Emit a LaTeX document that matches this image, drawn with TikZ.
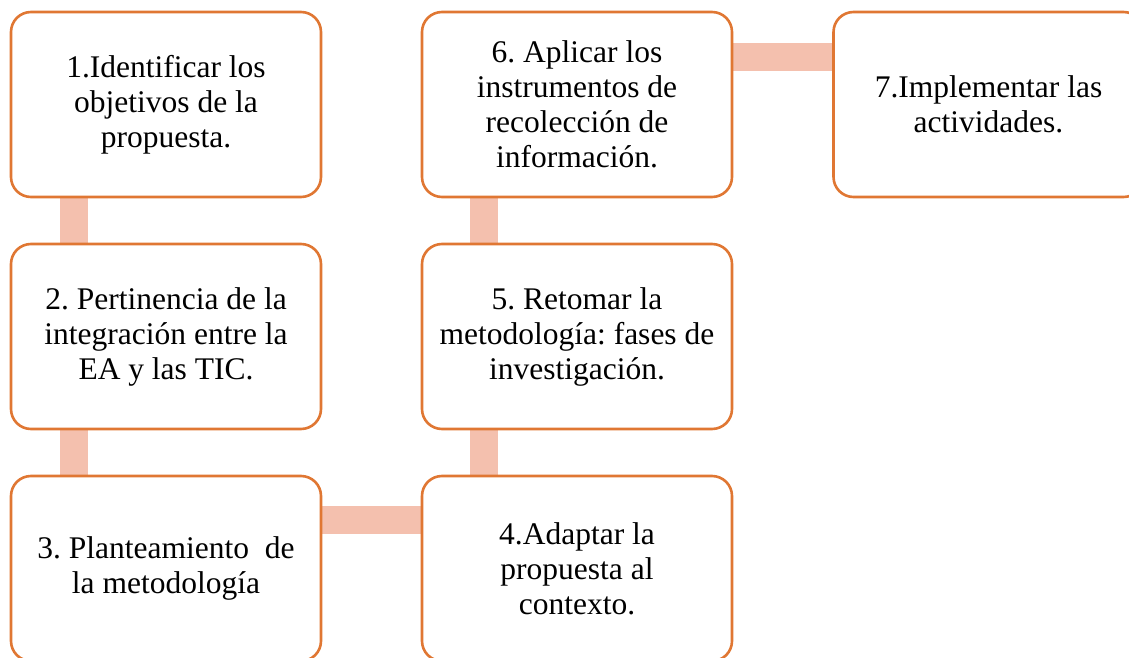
\documentclass[tikz,border=0pt]{standalone}
\usepackage{fontspec}
\setmainfont{Liberation Serif}
\usetikzlibrary{calc,backgrounds}
\definecolor{boxorange}{HTML}{E07733}
\definecolor{linkpink}{HTML}{F4C0AE}
\begin{document}
\frenchspacing
\begin{tikzpicture}[x=1pt,y=-1pt,
  stepbox/.style={draw=boxorange, line width=2.6pt, fill=white, rounded corners=20pt,
    minimum width=310pt, minimum height=185pt, align=center, inner sep=0pt,
    font=\fontsize{31.5}{35}\selectfont},
  link/.style={draw=linkpink, line width=28pt}]
\useasboundingbox (0,0) rectangle (1129,658);
\clip (0,0) rectangle (1129,658);
\node[stepbox] (b1) at (166,104.5) {1.Identificar los\\objetivos de la\\propuesta.};
\node[stepbox] (b2) at (166,336.5) {2. Pertinencia de la\\integración entre la\\EA y las TIC.};
\node[stepbox] (b3) at (166,568.5) {3. Planteamiento\ \ de\\la metodología};
\node[stepbox] (b4) at (577,568.5) {4.Adaptar la\\propuesta al\\contexto.};
\node[stepbox] (b5) at (577,336.5) {5. Retomar la\\metodología: fases de\\investigación.};
\node[stepbox] (b6) at (577,104.5) {6. Aplicar los\\instrumentos de\\recolección de\\información.};
\node[stepbox] (b7) at (988.5,104.5) {7.Implementar las\\actividades.};
\begin{scope}[on background layer]
\draw[link] ($(b1.south west)+(64,0)$) -- ($(b2.north west)+(64,0)$);
\draw[link] ($(b2.south west)+(64,0)$) -- ($(b3.north west)+(64,0)$);
\draw[link] ($(b3.north east)+(0,45.5)$) -- ($(b4.north west)+(0,45.5)$);
\draw[link] ($(b4.north west)+(63,0)$) -- ($(b5.south west)+(63,0)$);
\draw[link] ($(b5.north west)+(63,0)$) -- ($(b6.south west)+(63,0)$);
\draw[link] ($(b6.north east)+(0,46)$) -- ($(b7.north west)+(0,46)$);
\end{scope}
\end{tikzpicture}
\end{document}
